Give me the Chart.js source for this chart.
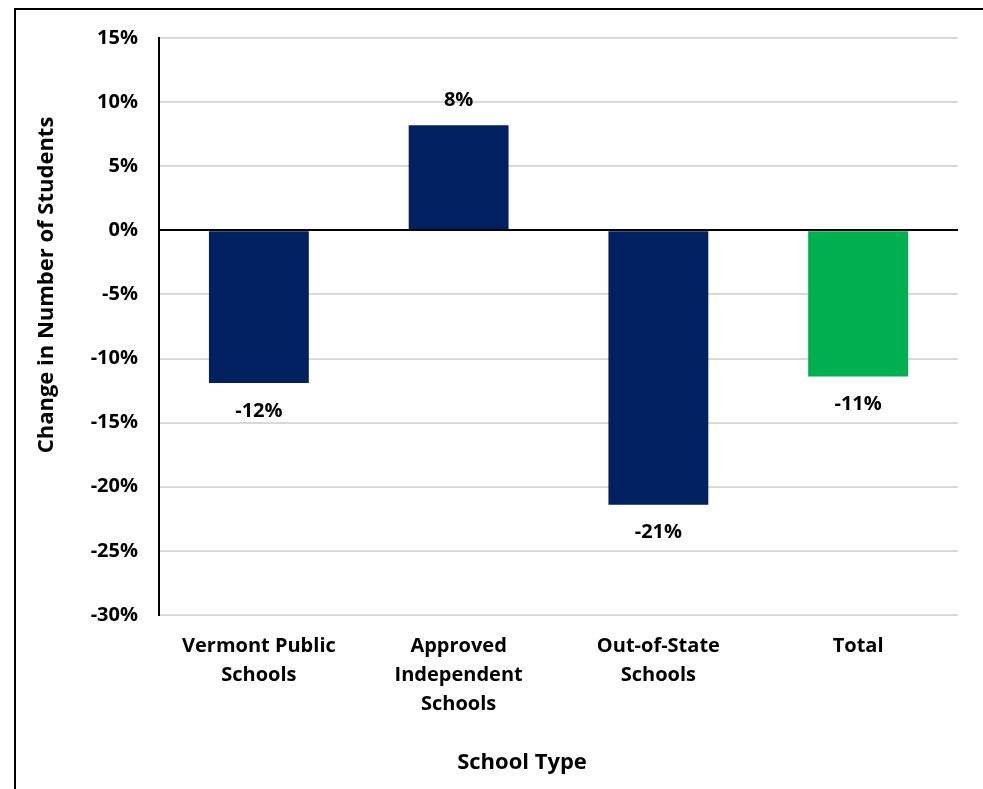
<!DOCTYPE html>
<html>
<head>
<meta charset="utf-8">
<script src="https://cdn.jsdelivr.net/npm/chart.js@4.4.0/dist/chart.umd.min.js"></script>
<style>
  html, body { margin: 0; padding: 0; background: #fff; }
  #wrap { width: 983px; height: 789px; position: relative; }
</style>
</head>
<body>
<div id="wrap"><canvas id="chart" width="983" height="789"></canvas></div>
<script>
// Data
const categories = [['Vermont Public', 'Schools'], ['Approved', 'Independent', 'Schools'], ['Out-of-State', 'Schools'], 'Total'];
const changePct = [-11.9, 8.2, -21.4, -11.4];
const barColors = ['#002060', '#002060', '#002060', '#00B050'];
const yTicks = [15, 10, 5, 0, -5, -10, -15, -20, -25, -30];
const xTitle = 'School Type';
const yTitle = 'Change in Number of Students';

const FONT = '"Open Sans", "Liberation Sans", sans-serif';

// frame + white background
const framePlugin = {
    id: 'frame',
    beforeDraw(chart) {
        const c = chart.ctx;
        c.save();
        c.fillStyle = '#fff';
        c.fillRect(0, 0, chart.width, chart.height);
        c.strokeStyle = '#000';
        c.lineWidth = 2;
        c.strokeRect(15, 9, chart.width + 10, chart.height + 10);
        c.restore();
    }
};

// axis titles (placed like the original, not centred on the plot area)
const axisTitles = {
    id: 'axisTitles',
    afterDraw(chart) {
        const c = chart.ctx;
        c.save();
        c.font = 'bold 22px ' + FONT;
        c.fillStyle = '#000';
        c.textAlign = 'center';
        c.textBaseline = 'middle';
        c.fillText(xTitle, 522, 763);
        c.translate(47, 285);
        c.rotate(-Math.PI / 2);
        c.fillText(yTitle, 0, 0);
        c.restore();
    }
};

// value labels above / below bars
const valueLabels = {
    id: 'valueLabels',
    afterDatasetsDraw(chart) {
        const c = chart.ctx;
        const meta = chart.getDatasetMeta(0);
        c.save();
        c.font = 'bold 20px ' + FONT;
        c.fillStyle = '#000';
        c.textAlign = 'center';
        c.textBaseline = 'middle';
        meta.data.forEach((bar, i) => {
            const v = changePct[i];
            const y = v >= 0 ? bar.y - 25 : bar.y + 28;
            c.fillText(Math.round(v) + '%', bar.x, y);
        });
        c.restore();
    }
};

new Chart(document.getElementById('chart'), {
    type: 'bar',
    data: {
        labels: categories,
        datasets: [{
            data: changePct,
            backgroundColor: barColors,
            barPercentage: 0.5,
            categoryPercentage: 1.0
        }]
    },
    options: {
        responsive: false,
        animation: false,
        layout: { padding: { left: 35, right: 25, top: 38, bottom: 13 } },
        plugins: {
            legend: { display: false },
            tooltip: { enabled: false }
        },
        scales: {
            x: {
                grid: { display: false, drawTicks: false },
                border: { display: false },
                ticks: {
                    color: '#000',
                    padding: 17,
                    maxRotation: 0,
                    font: { family: FONT, size: 20, weight: 'bold', lineHeight: 1.45 }
                },
                afterFit(scale) { scale.height = 161; }
            },
            y: {
                min: -30,
                max: 15,
                afterBuildTicks(scale) { scale.ticks = yTicks.map(v => ({ value: v })); },
                grid: {
                    drawTicks: false,
                    lineWidth: 2,
                    color: ctx => ctx.tick && ctx.tick.value === 0 ? '#000' : '#d9d9d9'
                },
                border: { display: true, color: '#000', width: 2 },
                ticks: {
                    color: '#000',
                    padding: 21,
                    callback: v => v + '%',
                    font: { family: FONT, size: 20, weight: 'bold' }
                },
                afterFit(scale) { scale.width = 124; }
            }
        }
    },
    plugins: [framePlugin, valueLabels, axisTitles]
});
</script>
</body>
</html>
